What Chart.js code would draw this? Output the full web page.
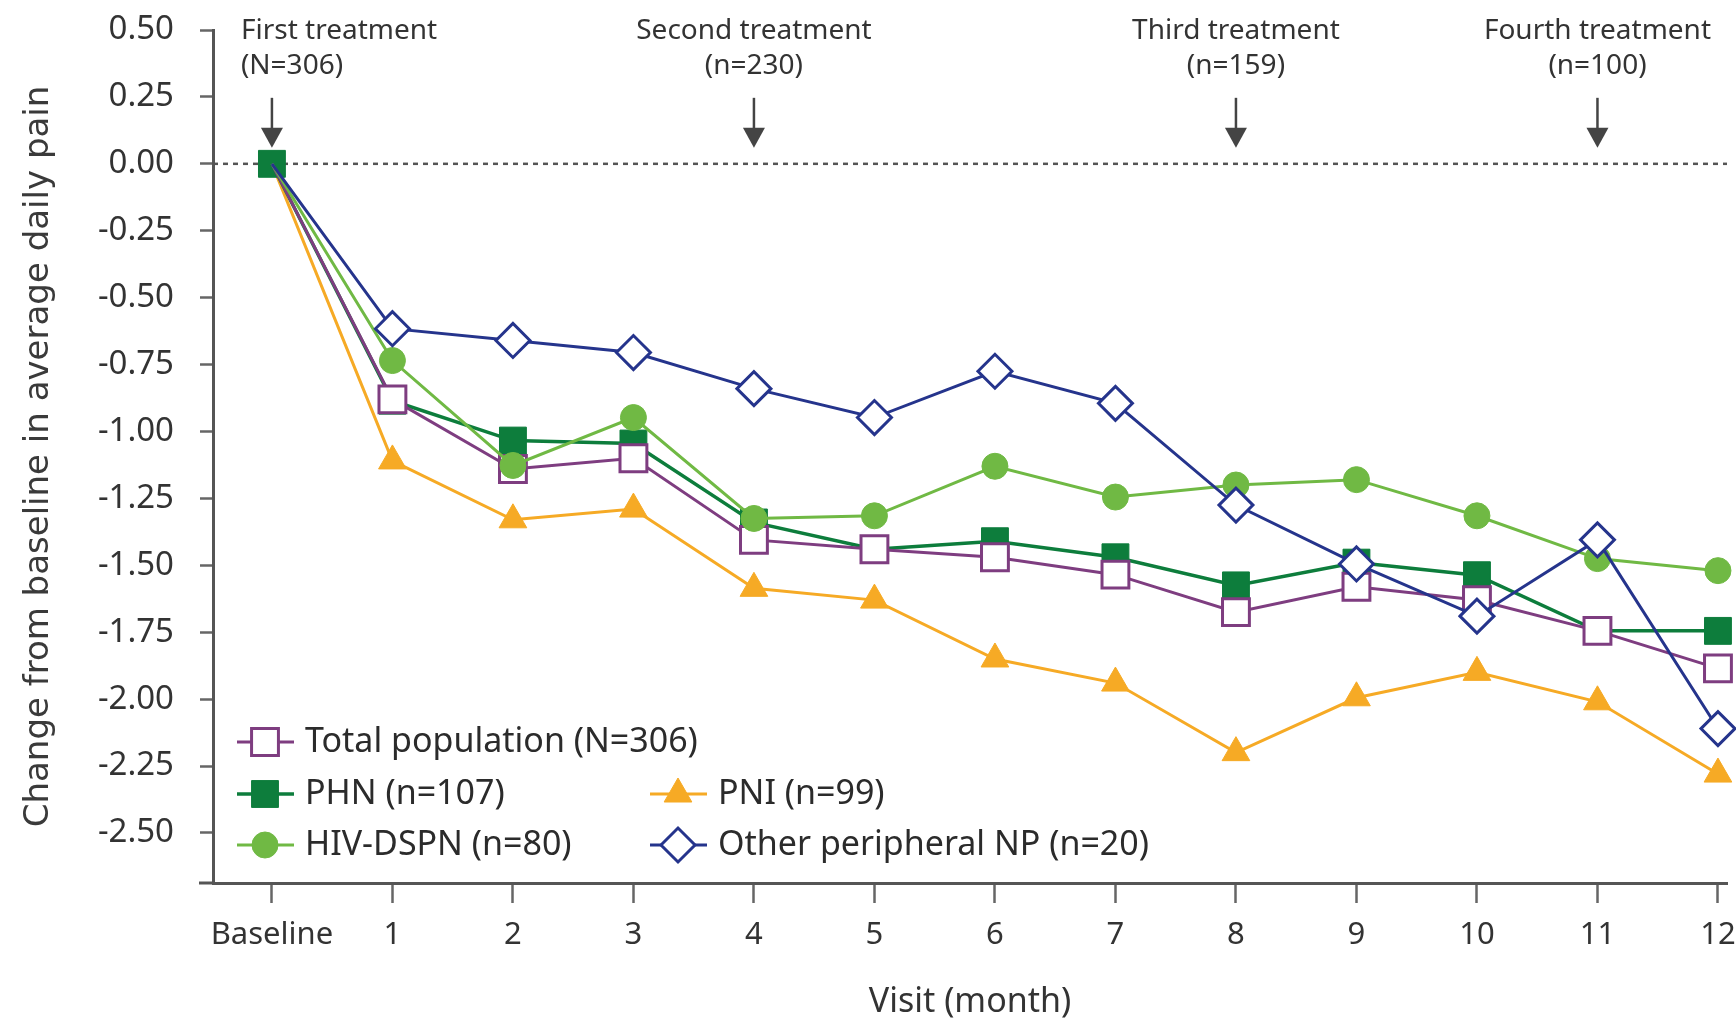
<!DOCTYPE html>
<html>
<head>
<meta charset="utf-8">
<script src="https://cdn.jsdelivr.net/npm/chart.js@4.4.1/dist/chart.umd.min.js"></script>
<style>
  body { margin: 0; background: #fff; }
  #wrap { width: 1736px; height: 1018px; }
</style>
</head>
<body>
<div id="wrap"><canvas id="myChart" width="1736" height="1018"></canvas></div>
<script>
// *** Data
const months = [0, 1, 2, 3, 4, 5, 6, 7, 8, 9, 10, 11, 12];
const monthLabels = ["Baseline", "1", "2", "3", "4", "5", "6", "7", "8", "9", "10", "11", "12"];
const yTicks = [0.5, 0.25, 0, -0.25, -0.5, -0.75, -1, -1.25, -1.5, -1.75, -2, -2.25, -2.5];

const totalPop = [0, -0.88, -1.14, -1.10, -1.405, -1.44, -1.47, -1.535, -1.675, -1.58, -1.63, -1.745, -1.885];
const phn = [0, -0.885, -1.034, -1.045, -1.34, -1.44, -1.41, -1.47, -1.575, -1.49, -1.537, -1.745, -1.745];
const hivDspn = [0, -0.735, -1.127, -0.948, -1.325, -1.315, -1.13, -1.245, -1.20, -1.18, -1.315, -1.475, -1.52];
const pni = [0, -1.11, -1.33, -1.29, -1.586, -1.63, -1.85, -1.94, -2.20, -1.995, -1.90, -2.01, -2.28];
const otherNp = [0, -0.616, -0.66, -0.705, -0.84, -0.948, -0.775, -0.895, -1.275, -1.495, -1.69, -1.405, -2.11];

const treatAt = [0, 4, 8, 11];
const treatTitle = ["First treatment", "Second treatment", "Third treatment", "Fourth treatment"];
const treatN = ["(N=306)", "(n=230)", "(n=159)", "(n=100)"];

const PURPLE = "#7e3d80";
const DKGREEN = "#0d7d3c";
const LTGREEN = "#70b944";
const ORANGE = "#f6aa25";
const NAVY = "#25348c";
const LABEL = "Noto Sans";

const pts = (arr) => months.map((m, i) => ({ x: m, y: arr[i] }));
const hideFirst = (r) => (ctx) => (ctx.dataIndex === 0 ? 0 : r);

// *** Plugins
const zeroLine = {
  id: "zeroLine",
  beforeDatasetsDraw(chart) {
    const { ctx, chartArea, scales } = chart;
    const y0 = scales.y.getPixelForValue(0);
    ctx.save();
    ctx.strokeStyle = "#555";
    ctx.lineWidth = 2.5;
    ctx.setLineDash([5, 5]);
    ctx.beginPath();
    ctx.moveTo(chartArea.left, y0);
    ctx.lineTo(chartArea.right, y0);
    ctx.stroke();
    ctx.setLineDash([]);
    // short stub of x axis left of y axis
    ctx.lineWidth = 3;
    ctx.beginPath();
    ctx.moveTo(chartArea.left - 14, chartArea.bottom);
    ctx.lineTo(chartArea.left, chartArea.bottom);
    ctx.stroke();
    ctx.restore();
  },
};

const treatments = {
  id: "treatments",
  afterDraw(chart) {
    const { ctx, chartArea, scales } = chart;
    const y0 = scales.y.getPixelForValue(0);
    ctx.save();
    treatAt.forEach((m, i) => {
      const x = scales.x.getPixelForValue(m);
      // arrow
      ctx.strokeStyle = "#444";
      ctx.fillStyle = "#444";
      ctx.lineWidth = 2.5;
      ctx.beginPath();
      ctx.moveTo(x, y0 - 66);
      ctx.lineTo(x, y0 - 34);
      ctx.stroke();
      ctx.beginPath();
      ctx.moveTo(x - 11, y0 - 36);
      ctx.lineTo(x + 11, y0 - 36);
      ctx.lineTo(x, y0 - 16);
      ctx.closePath();
      ctx.fill();
      // text
      ctx.fillStyle = "#333";
      ctx.font = "28px '" + LABEL + "'";
      ctx.textBaseline = "middle";
      let tx = x;
      if (i === 0) {
        ctx.textAlign = "left";
        tx = x - 31;
      } else {
        ctx.textAlign = "center";
      }
      ctx.fillText(treatTitle[i], tx, chartArea.top + 1);
      ctx.fillText(treatN[i], tx, chartArea.top + 36);
    });
    ctx.restore();
  },
};

// legend slots: [col, row]
const legendSlots = [[0, 0], [0, 1], [0, 2], [1, 1], [1, 2]];
const customLegend = {
  id: "customLegend",
  afterDraw(chart) {
    const { ctx, chartArea } = chart;
    const colX = [chartArea.left + 52, chartArea.left + 465];
    const rowY = [742, 794, 845];
    ctx.save();
    chart.data.datasets.forEach((ds, i) => {
      const [c, r] = legendSlots[i];
      const cx = colX[c];
      const cy = rowY[r];
      ctx.strokeStyle = ds.borderColor;
      ctx.lineWidth = ds.borderWidth;
      ctx.beginPath();
      ctx.moveTo(cx - 28, cy);
      ctx.lineTo(cx + 29, cy);
      ctx.stroke();
      ctx.fillStyle = ds.pointBackgroundColor;
      ctx.strokeStyle = ds.pointBorderColor;
      ctx.lineWidth = ds.pointBorderWidth;
      Chart.helpers.drawPoint(ctx, {
        pointStyle: ds.pointStyle,
        radius: ds.legendRadius,
        rotation: 0,
        borderWidth: ds.pointBorderWidth,
      }, cx, cy);
      ctx.fillStyle = "#2b2b2b";
      ctx.font = "34px '" + LABEL + "'";
      ctx.textAlign = "left";
      ctx.textBaseline = "middle";
      ctx.fillText(ds.label, cx + 40, cy);
    });
    ctx.restore();
  },
};

// *** Chart
const config = {
  type: "line",
  data: {
    datasets: [
      {
        label: "Total population (N=306)",
        data: pts(totalPop),
        borderColor: PURPLE, borderWidth: 3,
        pointStyle: "rect", pointRadius: hideFirst(19), legendRadius: 19,
        pointBackgroundColor: "#fff", pointBorderColor: PURPLE, pointBorderWidth: 3,
        order: 3,
      },
      {
        label: "PHN (n=107)",
        data: pts(phn),
        borderColor: DKGREEN, borderWidth: 3.5,
        pointStyle: "rect", pointRadius: 19, legendRadius: 19,
        pointBackgroundColor: DKGREEN, pointBorderColor: DKGREEN, pointBorderWidth: 1,
        order: 4,
      },
      {
        label: "HIV-DSPN (n=80)",
        data: pts(hivDspn),
        borderColor: LTGREEN, borderWidth: 3,
        pointStyle: "circle", pointRadius: hideFirst(13), legendRadius: 13,
        pointBackgroundColor: LTGREEN, pointBorderColor: LTGREEN, pointBorderWidth: 1,
        order: 2,
      },
      {
        label: "PNI (n=99)",
        data: pts(pni),
        borderColor: ORANGE, borderWidth: 3,
        pointStyle: "triangle", pointRadius: hideFirst(16), legendRadius: 16,
        pointBackgroundColor: ORANGE, pointBorderColor: ORANGE, pointBorderWidth: 1,
        order: 5,
      },
      {
        label: "Other peripheral NP (n=20)",
        data: pts(otherNp),
        borderColor: NAVY, borderWidth: 3,
        pointStyle: "rectRot", pointRadius: hideFirst(17), legendRadius: 17,
        pointBackgroundColor: "#fff", pointBorderColor: NAVY, pointBorderWidth: 3,
        order: 1,
      },
    ],
  },
  options: {
    responsive: false,
    animation: false,
    layout: { autoPadding: false, padding: { left: 0, top: 30, right: 9, bottom: 0 } },
    elements: { line: { tension: 0 } },
    datasets: { line: { clip: false } },
    plugins: { legend: { display: false }, tooltip: { enabled: false } },
    scales: {
      x: {
        type: "linear",
        min: -0.489,
        max: 12.075,
        afterBuildTicks: (s) => { s.ticks = months.map((v) => ({ value: v })); },
        afterFit: (s) => {
          s.height = 135;
          s.paddingLeft = 0;
          s.paddingRight = 0;
        },
        ticks: {
          callback: (v) => monthLabels[months.indexOf(v)],
          font: { family: LABEL, size: 31 },
          color: "#333",
          padding: 14,
          maxRotation: 0,
          autoSkip: false,
        },
        grid: { drawOnChartArea: false, drawTicks: true, tickLength: 20, tickWidth: 2.5, tickColor: "#666" },
        border: { display: true, color: "#555", width: 3 },
        title: {
          display: true,
          text: "Visit (month)",
          font: { family: LABEL, size: 34, lineHeight: 0.9 },
          color: "#333",
          padding: { top: 0, bottom: 0 },
        },
      },
      y: {
        min: -2.687,
        max: 0.5,
        afterBuildTicks: (s) => { s.ticks = yTicks.map((v) => ({ value: v })); },
        afterFit: (s) => {
          s.width = 213;
          s.paddingTop = 0;
          s.paddingBottom = 0;
        },
        ticks: {
          callback: (v) => v.toFixed(2),
          font: { family: LABEL, size: 33 },
          color: "#333",
          padding: 26,
        },
        grid: { drawOnChartArea: false, drawTicks: true, tickLength: 13, tickWidth: 2.5, tickColor: "#666" },
        border: { display: true, color: "#555", width: 3 },
        title: {
          display: true,
          text: "Change from baseline in average daily pain",
          font: { family: "DejaVu Sans", size: 34 },
          color: "#3a3a3a",
          padding: { top: 19, bottom: 0 },
        },
      },
    },
  },
  plugins: [zeroLine, treatments, customLegend],
};

var myChart = new Chart(document.getElementById("myChart"), config);
</script>
</body>
</html>
